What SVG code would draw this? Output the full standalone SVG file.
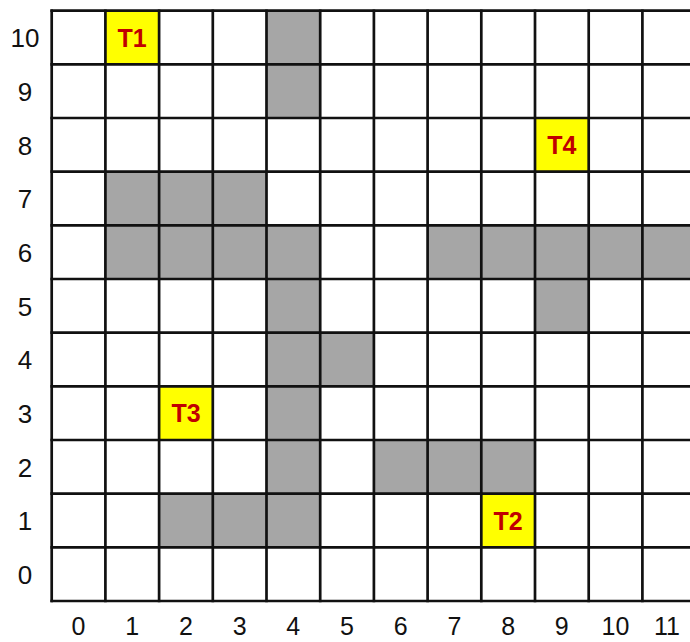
<svg xmlns="http://www.w3.org/2000/svg" width="690" height="642" viewBox="0 0 690 642">
<style>
.g{fill:#a6a6a6}
.y{fill:#ffff00}
.ln{stroke:#111;stroke-width:2.7;fill:none}
.ax{font-family:"Liberation Sans",Arial,sans-serif;font-size:26px;fill:#111;text-anchor:middle}
.cx{font-size:25px}
.t{font-family:"Liberation Sans",Arial,sans-serif;font-size:25px;font-weight:bold;fill:#c00000;text-anchor:middle}
</style>
<rect width="690" height="642" fill="#fff"/>
<g id="obstacles">
<rect class="g" x="266.5" y="10.7" width="53.7" height="53.7"/>
<rect class="g" x="266.5" y="64.4" width="53.7" height="53.6"/>
<rect class="g" x="105.4" y="171.7" width="161.1" height="53.6"/>
<rect class="g" x="105.4" y="225.3" width="214.8" height="53.7"/>
<rect class="g" x="427.6" y="225.3" width="268.5" height="53.7"/>
<rect class="g" x="266.5" y="279.0" width="53.7" height="53.7"/>
<rect class="g" x="535.0" y="279.0" width="53.7" height="53.7"/>
<rect class="g" x="266.5" y="332.7" width="107.4" height="53.6"/>
<rect class="g" x="266.5" y="386.3" width="53.7" height="53.7"/>
<rect class="g" x="266.5" y="440.0" width="53.7" height="53.6"/>
<rect class="g" x="373.9" y="440.0" width="161.1" height="53.6"/>
<rect class="g" x="159.1" y="493.6" width="161.1" height="53.7"/>
</g>
<g id="T1"><rect class="y" x="105.4" y="10.7" width="53.7" height="53.7"/><text class="t" x="132.2" y="46.5">T1</text></g>
<g id="T2"><rect class="y" x="481.3" y="493.6" width="53.7" height="53.7"/><text class="t" x="508.1" y="529.5">T2</text></g>
<g id="T3"><rect class="y" x="159.1" y="386.3" width="53.7" height="53.7"/><text class="t" x="186.0" y="422.2">T3</text></g>
<g id="T4"><rect class="y" x="535.0" y="118.0" width="53.7" height="53.7"/><text class="t" x="561.8" y="153.9">T4</text></g>
<g id="grid">
<path class="ln" d="M51.7 9.4V602.3M105.4 9.4V602.3M159.1 9.4V602.3M212.8 9.4V602.3M266.5 9.4V602.3M320.2 9.4V602.3M373.9 9.4V602.3M427.6 9.4V602.3M481.3 9.4V602.3M535.0 9.4V602.3M588.7 9.4V602.3M642.4 9.4V602.3"/>
<path class="ln" d="M50.4 10.7H696M50.4 64.4H696M50.4 118.0H696M50.4 171.7H696M50.4 225.3H696M50.4 279.0H696M50.4 332.7H696M50.4 386.3H696M50.4 440.0H696M50.4 493.6H696M50.4 547.3H696M50.4 601.0H696"/>
</g>
<g id="rowLabels">
<text class="ax" x="25" y="47">10</text>
<text class="ax" x="25" y="101">9</text>
<text class="ax" x="25" y="155">8</text>
<text class="ax" x="25" y="208">7</text>
<text class="ax" x="25" y="262">6</text>
<text class="ax" x="25" y="316">5</text>
<text class="ax" x="25" y="369">4</text>
<text class="ax" x="25" y="423">3</text>
<text class="ax" x="25" y="477">2</text>
<text class="ax" x="25" y="530">1</text>
<text class="ax" x="25" y="584">0</text>
</g>
<g id="colLabels">
<text class="ax cx" x="78.5" y="635">0</text>
<text class="ax cx" x="132.2" y="635">1</text>
<text class="ax cx" x="186.0" y="635">2</text>
<text class="ax cx" x="239.7" y="635">3</text>
<text class="ax cx" x="293.3" y="635">4</text>
<text class="ax cx" x="347.0" y="635">5</text>
<text class="ax cx" x="400.7" y="635">6</text>
<text class="ax cx" x="454.4" y="635">7</text>
<text class="ax cx" x="508.1" y="635">8</text>
<text class="ax cx" x="561.8" y="635">9</text>
<text class="ax cx" x="615.5" y="635">10</text>
<text class="ax cx" x="667" y="635">11</text>
</g>
</svg>
